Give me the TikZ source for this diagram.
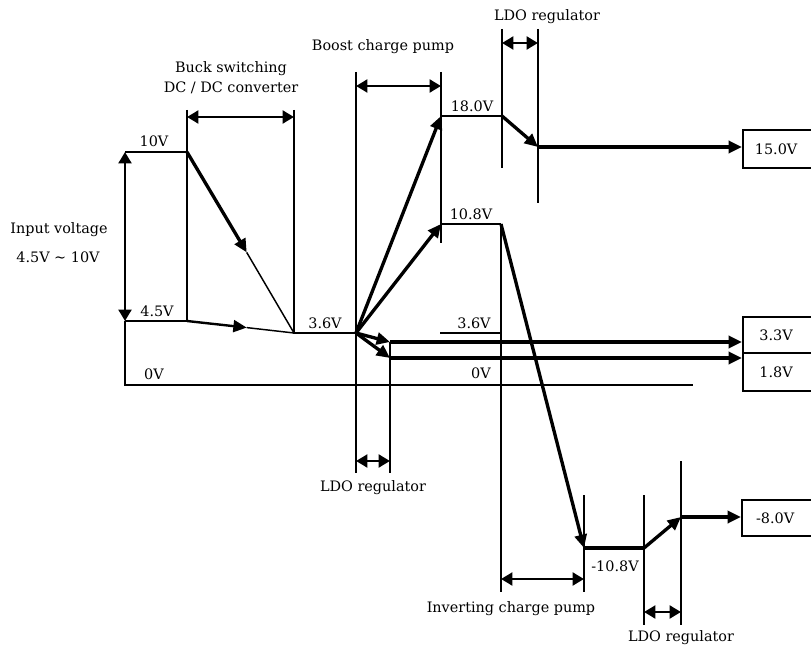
\documentclass[tikz,border=0pt]{standalone}
\usepackage{fontspec}
\setmainfont{DejaVu Serif}
\usetikzlibrary{arrows.meta}
\begin{document}
\begin{tikzpicture}[x=0.75pt,y=-0.75pt,
  thinl/.style={line width=1.1pt},
  medl/.style={line width=1.8pt,-{Triangle[length=10pt,width=9pt]}},
  arr/.style={line width=2.5pt,-{Triangle[length=10pt,width=9pt]}},
  darr/.style={line width=2.2pt,{Triangle[length=8.5pt,width=9.5pt]}-{Triangle[length=8.5pt,width=9.5pt]}},
  lbl/.style={font=\fontsize{10.8}{13}\selectfont, inner sep=0pt},
  outbox/.style={draw,line width=1.2pt,font=\fontsize{10.8}{13}\selectfont,anchor=north west,minimum width=54pt,inner sep=0pt}]
\useasboundingbox (0,0) rectangle (811,649);

% ---------- key points ----------
\coordinate (in10) at (125,152);
\coordinate (in45) at (125,321);
\coordinate (in0)  at (125,385);
\coordinate (z2)   at (693,385);
\coordinate (b10)  at (187,152);
\coordinate (b45)  at (187,321);
\coordinate (bt)   at (187,110);
\coordinate (bk1)  at (246.7,252.4);
\coordinate (bk2)  at (246.7,327.6);
\coordinate (c36)  at (294,333);
\coordinate (ct)   at (294,110);
\coordinate (p36)  at (356,333);
\coordinate (pt)   at (356,72);
\coordinate (pb)   at (356,473);
\coordinate (v18)  at (441,116);
\coordinate (v108) at (441,224);
\coordinate (vt)   at (441,72);
\coordinate (vb)   at (441,243);
\coordinate (e18)  at (502,116);
\coordinate (ut1)  at (502,29);
\coordinate (ub1)  at (502,168);
\coordinate (ut2)  at (538,29);
\coordinate (ub2)  at (538,203);
\coordinate (l15)  at (538,147);
\coordinate (e108) at (501,224);
\coordinate (ib)   at (501,592);
\coordinate (r36a) at (440,333);
\coordinate (r36b) at (501,333);
\coordinate (s33)  at (390,342);
\coordinate (s18)  at (390,358);
\coordinate (sb)   at (390,473);
\coordinate (n108) at (584,548);
\coordinate (nt)   at (584,495);
\coordinate (nb)   at (584,592);
\coordinate (m108) at (644,548);
\coordinate (mt)   at (644,495);
\coordinate (mb)   at (644,625);
\coordinate (l8)   at (681,517);
\coordinate (kt)   at (681,461);
\coordinate (kb)   at (681,625);

% bracket arrow ends
\coordinate (bka) at (187,117);  \coordinate (bkb) at (294,117);
\coordinate (bsa) at (356,86);   \coordinate (bsb) at (441,86);
\coordinate (ula) at (502,43);   \coordinate (ulb) at (538,43);
\coordinate (lla) at (356,461);  \coordinate (llb) at (390,461);
\coordinate (iva) at (501,579);  \coordinate (ivb) at (584,579);
\coordinate (lra) at (644,612);  \coordinate (lrb) at (681,612);

% ---------- output boxes ----------
\node[outbox,minimum height=28.5pt] (o15) at (742,129) {\hspace*{-4pt}15.0V};
\node[outbox,minimum height=27pt]   (o33) at (742,316) {\hspace*{-4pt}3.3V};
\node[outbox,minimum height=28.5pt] (o18) at (742,352) {\hspace*{-4pt}1.8V};
\node[outbox,minimum height=27pt]   (o8)  at (741,499) {\hspace*{-4pt}-8.0V};

% ---------- thin lines ----------
\draw[thinl] (in10) -- (b10);
\draw[thinl] (in45) -- (b45);
\draw[thinl] (in45) -- (in0) -- (z2);
\draw[thinl] (bt) -- (b45);
\draw[thinl] (ct) -- (c36) -- (p36);
\draw[thinl] (pt) -- (pb);
\draw[thinl] (vt) -- (vb);
\draw[thinl] (v18) -- (e18);
\draw[thinl] (v108) -- (e108);
\draw[thinl] (ut1) -- (ub1);
\draw[thinl] (ut2) -- (ub2);
\draw[thinl] (e108) -- (ib);
\draw[thinl] (r36a) -- (r36b);
\draw[thinl] (s33) -- (sb);
\draw[thinl] (nt) -- (nb);
\draw[thinl] (mt) -- (mb);
\draw[thinl] (kt) -- (kb);
\draw[thinl] (bk1) -- (c36);
\draw[thinl] (bk2) -- (c36);

% ---------- flow arrows ----------
\draw[darr] (in10) -- (in45);
\draw[arr] (b10) -- (bk1);
\draw[medl] (b45) -- (bk2);
\draw[arr] (p36) -- (v18);
\draw[arr] (p36) -- (v108);
\draw[arr] (p36) -- (s33);
\draw[arr] (p36) -- (s18);
\draw[arr] (e18) -- (l15);
\draw[arr] (l15) -- (o15.west |- l15);
\draw[arr] (s33) -- (o33.west |- s33);
\draw[arr] (s18) -- (o18.west |- s18);
\draw[arr] (e108) -- (n108);
\draw[line width=2.5pt] (n108) -- (m108);
\draw[arr] (m108) -- (l8);
\draw[arr] (l8) -- (o8.west |- l8);

% ---------- bracket arrows ----------
\draw[darr] (bka) -- (bkb);
\draw[darr] (bsa) -- (bsb);
\draw[darr] (ula) -- (ulb);
\draw[darr] (lla) -- (llb);
\draw[darr] (iva) -- (ivb);
\draw[darr] (lra) -- (lrb);

% ---------- labels ----------
\node[lbl] (tbuck1) at (231,69) {Buck switching};
\node[lbl] (tbuck2) at (231,88) {DC / DC converter};
\node[lbl] (tboost) at (383,47) {Boost charge pump};
\node[lbl] (tldo1)  at (547,17) {LDO regulator};
\node[lbl] (tldo2)  at (373,488) {LDO regulator};
\node[lbl] (tldo3)  at (681,638) {LDO regulator};
\node[lbl] (tinv)   at (511,609) {Inverting charge pump};
\node[lbl] (tin1)   at (59,230) {Input voltage};
\node[lbl] (tin2)   at (58,257) {4.5V ∼ 10V};
\node[lbl] (t10)    at (154,141) {10V};
\node[lbl] (t45)    at (157,311) {4.5V};
\node[lbl] (t0a)    at (154,374) {0V};
\node[lbl] (t36a)   at (325,323) {3.6V};
\node[lbl] (t36b)   at (474,323) {3.6V};
\node[lbl] (t0b)    at (481,373) {0V};
\node[lbl] (t18)    at (472,106) {18.0V};
\node[lbl] (t108)   at (471,214) {10.8V};
\node[lbl] (tn108)  at (615,566) {-10.8V};
\end{tikzpicture}
\end{document}
